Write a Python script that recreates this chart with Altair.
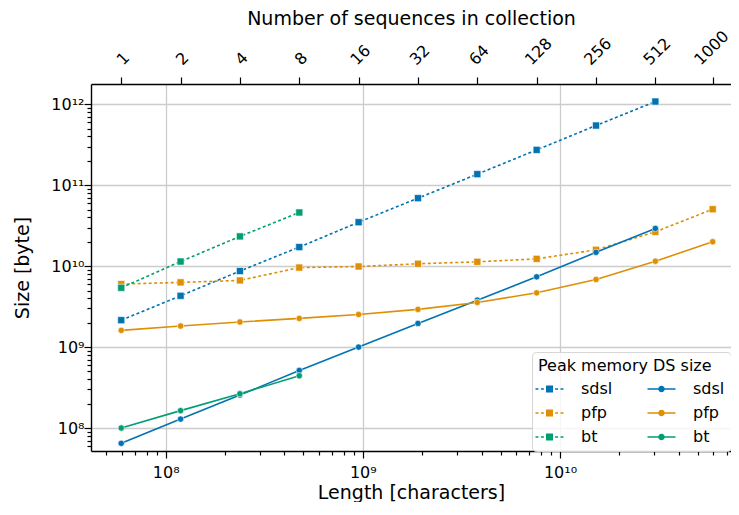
import json
import altair as alt
import pandas as pd

# ---------------- data ----------------
n_seqs = [1, 2, 4, 8, 16, 32, 64, 128, 256, 512, 1000]
lengths = [5.95e7, 1.19e8, 2.38e8, 4.76e8, 9.52e8, 1.904e9, 3.808e9,
           7.616e9, 1.5232e10, 3.0464e10, 5.95e10]

sdsl_peak = [2.15e9, 4.3e9, 8.7e9, 1.72e10, 3.49e10, 6.92e10, 1.37e11,
             2.73e11, 5.46e11, 1.08e12]
pfp_peak = [6.0e9, 6.3e9, 6.66e9, 9.6e9, 9.9e9, 1.07e10, 1.13e10, 1.23e10,
            1.59e10, 2.65e10, 5.05e10]
bt_peak = [5.4e9, 1.14e10, 2.33e10, 4.6e10]

sdsl_ds = [6.47e7, 1.29e8, 2.55e8, 5.15e8, 1.0e9, 1.96e9, 3.8e9, 7.38e9,
           1.48e10, 2.92e10]
pfp_ds = [1.61e9, 1.82e9, 2.04e9, 2.26e9, 2.53e9, 2.92e9, 3.56e9, 4.68e9,
          6.85e9, 1.15e10, 2.0e10]
bt_ds = [1.0e8, 1.64e8, 2.65e8, 4.42e8]

tools = ["sdsl", "pfp", "bt"]
tool_colors = ["#0173b2", "#de8f05", "#029e73"]
series_order = ["sdsl (peak)", "pfp (peak)", "bt (peak)", "sdsl", "pfp", "bt"]
series_colors = ["#0173b2", "#de8f05", "#029e73", "#0173b2", "#de8f05", "#029e73"]

x_ticks = [5e7, 6e7, 7e7, 8e7, 9e7,
           1e8, 2e8, 3e8, 4e8, 5e8, 6e8, 7e8, 8e8, 9e8,
           1e9, 2e9, 3e9, 4e9, 5e9, 6e9, 7e9, 8e9, 9e9,
           1e10, 2e10, 3e10, 4e10, 5e10, 6e10, 7e10]
y_ticks = [6e7, 7e7, 8e7, 9e7,
           1e8, 2e8, 3e8, 4e8, 5e8, 6e8, 7e8, 8e8, 9e8,
           1e9, 2e9, 3e9, 4e9, 5e9, 6e9, 7e9, 8e9, 9e9,
           1e10, 2e10, 3e10, 4e10, 5e10, 6e10, 7e10, 8e10, 9e10,
           1e11, 2e11, 3e11, 4e11, 5e11, 6e11, 7e11, 8e11, 9e11,
           1e12]

# ---------------- table ----------------
rows = []
for name, kind, vals in [("sdsl (peak)", "peak", sdsl_peak),
                         ("pfp (peak)", "peak", pfp_peak),
                         ("bt (peak)", "peak", bt_peak),
                         ("sdsl", "ds", sdsl_ds),
                         ("pfp", "ds", pfp_ds),
                         ("bt", "ds", bt_ds)]:
    for L, v in zip(lengths, vals):
        rows.append({"length": L, "size": v, "series": name, "kind": kind})
df = pd.DataFrame(rows)
top_df = pd.DataFrame({"length": lengths, "n": n_seqs})

FONT = "DejaVu Sans"

# ---------------- axes helpers ----------------
E = "round(log(datum.value)/LN10)"
MAJOR = f"abs(log(datum.value)/LN10-{E})<1e-6"
sup = {7: "\u2077", 8: "\u2078", 9: "\u2079", 10: "\u00b9\u2070",
       11: "\u00b9\u00b9", 12: "\u00b9\u00b2"}
inner = "''"
for e, s in sup.items():
    inner = f"({E}=={e}?'10{s}':{inner})"
pow_label = f"{MAJOR} ? {inner} : ''"

tick_cond = {"condition": {"test": MAJOR, "value": 7}, "value": 4}
grid_cond = {"condition": {"test": MAJOR, "value": 1}, "value": 0}

x_scale = alt.Scale(type="log", domain=[4.18e7, 7.37e10], nice=False)
y_scale = alt.Scale(type="log", domain=[5.2e7, 1.78e12], nice=False)

x_axis = alt.Axis(orient="bottom", values=x_ticks, labelExpr=pow_label,
                  tickSize=tick_cond, gridOpacity=grid_cond, grid=True,
                  title="Length [characters]", labelPadding=6, titlePadding=3)
y_axis = alt.Axis(orient="left", values=y_ticks, labelExpr=pow_label,
                  tickSize=tick_cond, gridOpacity=grid_cond, grid=True,
                  title="Size [byte]", labelPadding=0, titlePadding=18)

x_enc = alt.X("length:Q", scale=x_scale, axis=x_axis)
y_enc = alt.Y("size:Q", scale=y_scale, axis=y_axis)

# ---------------- visible series ----------------
layers = []
for tool, col in zip(tools, tool_colors):
    peak = alt.Chart(df).transform_filter(alt.datum.series == f"{tool} (peak)")
    layers.append(peak.mark_line(color=col, strokeDash=[3, 2.5], strokeWidth=1.6)
                  .encode(x=x_enc, y=y_enc))
    layers.append(peak.mark_point(shape="square", filled=True, size=50,
                                  color=col, stroke="white", strokeWidth=0.6,
                                  opacity=1)
                  .encode(x=x_enc, y=y_enc))
for tool, col in zip(tools, tool_colors):
    ds = alt.Chart(df).transform_filter(alt.datum.series == tool)
    layers.append(ds.mark_line(color=col, strokeWidth=1.6)
                  .encode(x=x_enc, y=y_enc))
    layers.append(ds.mark_point(shape="circle", filled=True, size=40,
                                color=col, stroke="white", strokeWidth=0.6,
                                opacity=1)
                  .encode(x=x_enc, y=y_enc))

# ---------------- legend (line + marker glyphs) ----------------
dotted_sq = ("M-4,-0.23H-3.15V0.23H-4Z M-2.45,-0.23H-1.6V0.23H-2.45Z "
             "M-1,-1H1V1H-1Z M1.6,-0.23H2.45V0.23H1.6Z M3.15,-0.23H4V0.23H3.15Z")
solid_circ = ("M-4,-0.23H4V0.23H-4Z "
              "M0.93,0A0.93,0.93,0,1,1,-0.93,0A0.93,0.93,0,1,1,0.93,0Z")
color_scale = alt.Scale(domain=series_order, range=series_colors)
shape_scale = alt.Scale(domain=series_order,
                        range=[dotted_sq] * 3 + [solid_circ] * 3)

legend = alt.Legend(
    title="Peak memory DS size", orient="bottom-right", offset=0, columns=2,
    symbolSize=49, symbolStrokeWidth=0, symbolOpacity=1,
    symbolOffset=3.5, labelOffset=23.5,
    labelFontSize=16, titleFontSize=16, titleFontWeight="normal",
    labelFont=FONT, titleFont=FONT, labelColor="black", titleColor="black",
    padding=6, rowPadding=8, columnPadding=34, titlePadding=7,
    fillColor="rgba(255,255,255,0.8)", strokeColor="#d6d6d6", cornerRadius=4,
    labelExpr="replace(datum.label, ' (peak)', '')",
)

legend_layer = alt.Chart(df).mark_point(filled=True, size=49, opacity=0).encode(
    x=x_enc, y=y_enc,
    color=alt.Color("series:N", scale=color_scale, legend=legend),
    shape=alt.Shape("series:N", scale=shape_scale, legend=legend),
)
layers.append(legend_layer)

main = alt.layer(*layers)

# ---------------- top axis: number of sequences ----------------
n_labels = [str(n) for n in n_seqs]
top_label = f"{json.dumps(n_labels)}[indexof({json.dumps(lengths)}, datum.value)]"
top_offset = (f"-3.6*length({top_label})+1.5"
              f"-(length({top_label})>3?3:0)")

top = alt.Chart(top_df).mark_point(opacity=0).encode(
    x=alt.X("length:Q", scale=x_scale, axis=alt.Axis(
        orient="top", values=lengths, labelExpr=top_label, labelAngle=315,
        labelAlign="left", labelBaseline="middle",
        labelOffset={"expr": top_offset}, grid=False, tickSize=7,
        labelPadding=15, titlePadding=-1,
        title="Number of sequences in collection"))
)

chart = alt.layer(main, top).resolve_scale(x="independent").properties(
    width=640, height=367,
    autosize=alt.AutoSizeParams(type="none"),
    padding={"left": 83, "top": 76, "right": 0, "bottom": 51},
).configure(font=FONT).configure_view(stroke=None).configure_axis(
    domainColor="black", domainWidth=1.4, tickColor="black", tickWidth=1.2,
    labelColor="black", titleColor="black", labelFontSize=16,
    titleFontSize=19, titleFontWeight="normal", labelFont=FONT,
    titleFont=FONT, gridColor="#cccccc", gridWidth=1.3,
)

chart.save("out.html", embed_options={"renderer": "svg", "actions": False})
